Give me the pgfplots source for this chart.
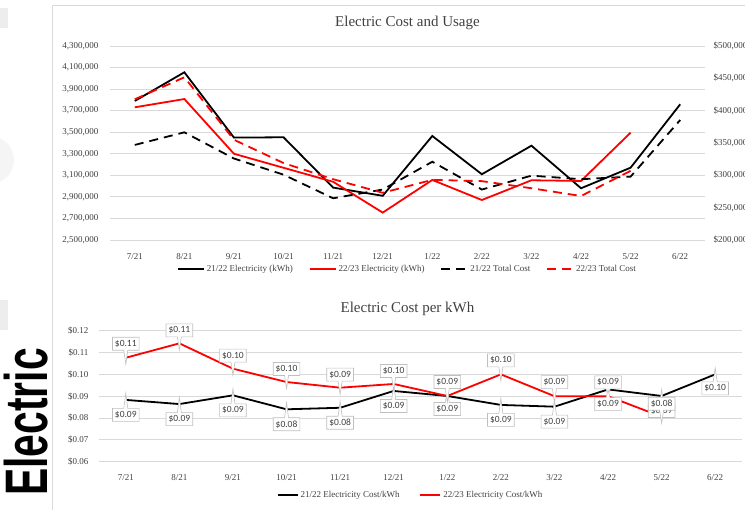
\documentclass[border=0pt]{standalone}
\usepackage{fontspec}
\setmainfont{Liberation Serif}
\newfontfamily\lsans{Liberation Sans}
\newfontfamily\carl{Carlito}
\usepackage{pgfplots}
\usepackage{pgfplotstable}
\pgfplotsset{compat=1.18}
\usetikzlibrary{shapes.callouts}

% Top chart: kWh (left axis) and total cost (right axis)
\pgfplotstableread{
x kwh cost
0 3790000 347000
1 4056000 366500
2 3450000 326000
3 3453000 301000
4 2986000 264500
5 2910000 278000
6 3465000 321000
7 3110000 278000
8 3375000 299500
9 2980000 294000
10 3171000 298000
11 3759000 385600
}\tA
\pgfplotstableread{
x kwh cost
0 3731000 417600
1 3808000 451600
2 3300000 355000
3 3170000 319000
4 3040000 294000
5 2754000 273000
6 3057000 293000
7 2871000 291000
8 3054000 280000
9 3048000 268000
10 3496000 307000
}\tB

% Bottom chart: cost per kWh
\pgfplotstableread{
x y dy py
0 0.0883 -15 15
1 0.0864 -15 15
2 0.0904 -15 15
3 0.0840 -15 15
4 0.0847 -15 15
5 0.0924 -15 15
6 0.0901 -13 13
7 0.0860 -15 15
8 0.0852 -15 15
9 0.0931 7 -7
10 0.0901 -15 15
11 0.1000 -14 14
}\cA
\pgfplotstableread{
x y dy py
0 0.1076 14 -14
1 0.1142 13 -13
2 0.1026 13 -13
3 0.0965 13 -13
4 0.0939 13 -13
5 0.0956 13 -13
6 0.0901 14 -14
7 0.1000 14 -14
8 0.0900 14 -14
9 0.0900 -8 8
10 0.0806 13 -13
}\cB

\definecolor{gridc}{HTML}{D9D9D9}
\definecolor{txt}{HTML}{404040}

\begin{document}
\begin{tikzpicture}[x=1pt,y=1pt]
\useasboundingbox (0,0) rectangle (745,510);
% page decorations
\fill[black!7] (0,482) rectangle (8,502);
\fill[black!7] (0,180) rectangle (8,210);
\fill[black!4] (-10,350) circle (24);
\draw[black!15, line width=0.8pt] (52.5,-5) -- (52.5,505) -- (760,505);
\node[rotate=90, inner sep=0, anchor=base] at (47,88)
  {\scalebox{0.68}[1]{\lsans\bfseries\fontsize{60}{60}\selectfont Electric}};

% ---------- top chart, left axis ----------
\begin{axis}[
  at={(110pt,270pt)}, anchor=south west, scale only axis,
  width=595pt, height=194pt,
  xmin=-0.5, xmax=11.5, xtick={0,...,11},
  xticklabels={7/21,8/21,9/21,10/21,11/21,12/21,1/22,2/22,3/22,4/22,5/22,6/22},
  ymin=2500000, ymax=4300000,
  ytick={2500000,2700000,2900000,3100000,3300000,3500000,3700000,3900000,4100000,4300000},
  scaled y ticks=false,
  yticklabel={\pgfmathprintnumber[fixed,precision=0,1000 sep={,},assume math mode=true]{\tick}},
  ymajorgrids, grid style={gridc, line width=0.9pt},
  axis line style={draw=none}, tick style={draw=none},
  ticklabel style={font=\fontsize{9}{10}\selectfont, text=txt},
  yticklabel style={xshift=-8pt}, xticklabel style={yshift=-10pt},
  title={Electric Cost and Usage},
  title style={at={(0.5,1)}, anchor=center, yshift=17pt, font=\fontsize{15}{18}\selectfont, text=txt},
  clip=false,
]
\addplot[black, line width=1.8pt] table[x=x,y=kwh]{\tA};
\addplot[red, line width=1.8pt] table[x=x,y=kwh]{\tB};
\end{axis}

% ---------- top chart, right axis ----------
\begin{axis}[
  at={(110pt,270pt)}, anchor=south west, scale only axis,
  width=595pt, height=194pt,
  xmin=-0.5, xmax=11.5, xtick=\empty,
  ymin=200000, ymax=500000,
  ytick={200000,250000,300000,350000,400000,450000,500000},
  scaled y ticks=false,
  yticklabel pos=right,
  yticklabel={\$\pgfmathprintnumber[fixed,precision=0,1000 sep={,},assume math mode=true]{\tick}},
  axis line style={draw=none}, tick style={draw=none},
  ticklabel style={font=\fontsize{9}{10}\selectfont, text=txt},
  yticklabel style={xshift=5pt},
  legend style={at={(0.5,0)}, anchor=center, yshift=-29pt, draw=none, fill=none,
    font=\fontsize{9}{10}\selectfont, text=txt,
    /tikz/every even column/.append style={column sep=14pt}},
  legend columns=4, legend cell align=left,
  legend image code/.code={\draw[#1] (0pt,0pt) -- (26pt,0pt);},
  clip=false,
]
\addlegendimage{black, line width=1.8pt}
\addlegendentry{21/22 Electricity (kWh)}
\addlegendimage{red, line width=1.8pt}
\addlegendentry{22/23 Electricity (kWh)}
\addplot[black, line width=1.8pt, dash pattern=on 9pt off 6pt] table[x=x,y=cost]{\tA};
\addlegendentry{21/22 Total Cost}
\addplot[red, line width=1.8pt, dash pattern=on 9pt off 6pt] table[x=x,y=cost]{\tB};
\addlegendentry{22/23 Total Cost}
\end{axis}

% ---------- bottom chart ----------
\begin{axis}[
  at={(99pt,48.3pt)}, anchor=south west, scale only axis,
  width=643pt, height=131pt,
  xmin=-0.5, xmax=11.5, xtick={0,...,11},
  xticklabels={7/21,8/21,9/21,10/21,11/21,12/21,1/22,2/22,3/22,4/22,5/22,6/22},
  ymin=0.06, ymax=0.12,
  ytick={0.06,0.07,0.08,0.09,0.10,0.11,0.12},
  yticklabel={\$\pgfmathprintnumber[fixed,fixed zerofill,precision=2,assume math mode=true]{\tick}},
  ymajorgrids, grid style={gridc, line width=0.9pt},
  axis line style={draw=none}, tick style={draw=none},
  ticklabel style={font=\fontsize{9}{10}\selectfont, text=txt},
  yticklabel style={xshift=-7pt}, xticklabel style={yshift=-9pt},
  title={Electric Cost per kWh},
  title style={at={(0.5,1)}, anchor=center, yshift=16pt, xshift=-13pt, font=\fontsize{15}{18}\selectfont, text=txt},
  legend style={at={(0.5,0)}, anchor=center, yshift=-33pt, xshift=-10pt, draw=none, fill=none,
    font=\fontsize{9}{10}\selectfont, text=txt,
    /tikz/every even column/.append style={column sep=18pt}},
  legend columns=2, legend cell align=left,
  legend image code/.code={\draw[#1] (0pt,0pt) -- (20pt,0pt);},
  clip=false,
  point meta=y,
  visualization depends on={\thisrow{dy}\as\dy},
  visualization depends on={\thisrow{py}\as\py},
  nodes near coords={\$\pgfmathprintnumber[fixed,fixed zerofill,precision=2,assume math mode=true]{\pgfplotspointmeta}},
  nodes near coords style={anchor=center, yshift=\dy pt, rectangle callout,
    callout relative pointer={(0pt,\py pt)}, callout pointer width=4pt,
    draw=black!25, line width=0.6pt, solid, fill=white, text=txt, font=\carl\fontsize{9.5}{10}\selectfont,
    inner xsep=2.5pt, inner ysep=2pt, minimum height=13pt},
]
\addplot[black, line width=1.8pt] table[x=x,y=y]{\cA};
\addlegendentry{21/22 Electricity Cost/kWh}
\addplot[red, line width=1.8pt] table[x=x,y=y]{\cB};
\addlegendentry{22/23 Electricity Cost/kWh}
\end{axis}
\end{tikzpicture}
\end{document}
